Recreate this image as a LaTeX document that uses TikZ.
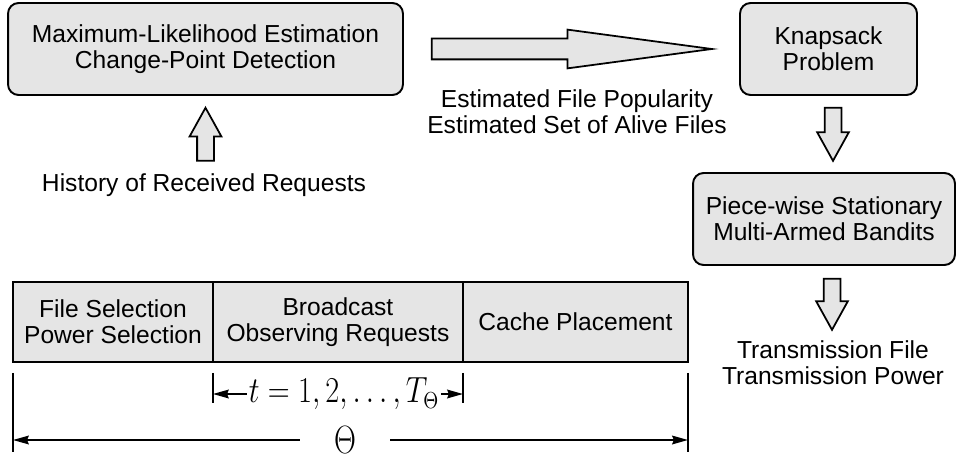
\documentclass[tikz,border=0pt]{standalone}
\usepackage{amsmath}
\usepackage{graphicx}
\usepackage[no-math]{fontspec}
\setmainfont{Liberation Sans}
\usetikzlibrary{positioning,shapes.arrows,arrows.meta}

\tikzset{
  every node/.style={font=\fontsize{14}{15}\selectfont},
  blockbox/.style={draw,line width=1.1pt,rounded corners=6pt,fill=gray!20,align=center,inner sep=0pt,minimum height=1.84cm},
  slot/.style={draw,line width=1.1pt,fill=gray!20,align=center,inner sep=0pt,outer sep=0pt,minimum height=1.6cm},
  fatarrow/.style={single arrow,draw,line width=1pt,fill=gray!20,inner xsep=0pt,inner ysep=0.15cm,
    single arrow head extend=0.15cm,single arrow tip angle=58,minimum height=1.06cm},
  lbl/.style={align=center,inner sep=0pt},
  dim/.style={line width=0.8pt},
  dimtip/.style={dim,-{Stealth[length=9pt,width=5pt,inset=1pt]}}
}

\begin{document}
\begin{tikzpicture}[x=0.02cm,y=-0.02cm]
  \useasboundingbox (0,0) rectangle (959,459);

  % upper boxes
  \node[blockbox,minimum width=7.9cm] (mle) at (205.5,49) {Maximum-Likelihood Estimation\\Change-Point Detection};
  \node[blockbox,minimum width=3.54cm] (knap) at (828.5,49) {Knapsack\\Problem};
  \node[blockbox,minimum width=5.24cm] (pws) at (824,219) {Piece-wise Stationary\\Multi-Armed Bandits};

  % fat arrows
  \node[fatarrow,rotate=90,anchor=tip] (hup) at ([yshift=-0.2cm]mle.south) {};
  \node[fatarrow,anchor=tail,minimum height=5.6cm,inner ysep=0.19cm,single arrow head extend=0.18cm,
    single arrow tip angle=15.3] (estarr) at ([xshift=0.54cm]mle.east) {};
  \node[fatarrow,rotate=-90,anchor=tail] (kdown) at ([xshift=0.09cm,yshift=-0.22cm]knap.south) {};
  \node[fatarrow,rotate=-90,anchor=tail,minimum height=1.02cm] (pdown) at ([xshift=0.16cm,yshift=-0.24cm]pws.south) {};

  % labels
  \node[lbl] (hist) at (204,185) {History of Received Requests};
  \node[lbl] (estlbl) at (577,112) {Estimated File Popularity\\Estimated Set of Alive Files};
  \node[lbl] (txlbl) at (833,363) {Transmission File\\Transmission Power};

  % frame
  \node[slot,minimum width=4cm] (sel) at (113,322) {File Selection\\Power Selection};
  \node[slot,minimum width=5cm,right=0pt of sel] (bcast) {Broadcast\\Observing Requests};
  \node[slot,minimum width=4.5cm,right=0pt of bcast] (place) {Cache Placement};

  \coordinate (l0) at ([yshift=-0.22cm]sel.south west);
  \coordinate (l1) at ([yshift=-0.22cm]sel.south east);
  \coordinate (l2) at ([yshift=-0.22cm]bcast.south east);
  \coordinate (l3) at ([yshift=-0.22cm]place.south east);
  \draw[dim] (l0) -- ++(0,79);
  \draw[dim] (l1) -- ++(0,30);
  \draw[dim] (l2) -- ++(0,30);
  \draw[dim] (l3) -- ++(0,79);

  \node[inner sep=1pt,font=\fontsize{16}{16}\selectfont] (tval) at (344,394) {\scalebox{1}[1.2]{$t=1,2,\ldots,T_\Theta$}};
  \draw[dimtip] (tval.west) -- (tval.west -| l1);
  \draw[dimtip] (tval.east) -- (tval.east -| l2);

  \node[inner sep=0pt,minimum width=1.8cm,font=\fontsize{19}{19}\selectfont] (theta) at (345,440) {\scalebox{1}[1.3]{$\Theta$}};
  \draw[dimtip] (theta.west) -- (theta.west -| l0);
  \draw[dimtip] (theta.east) -- (theta.east -| l3);
\end{tikzpicture}
\end{document}
